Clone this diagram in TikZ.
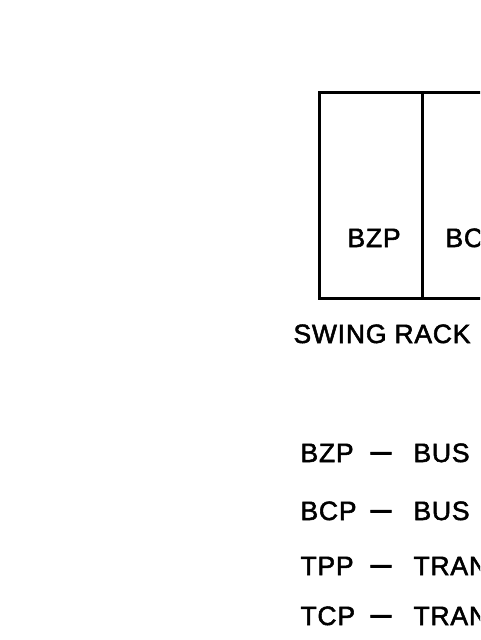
\documentclass[tikz,border=0pt]{standalone}
\usepackage{fontspec}
\setmainfont{Liberation Sans}[FakeBold=2, LetterSpace=3]
\tikzset{
    lbl/.style={font=\fontsize{26.5}{30}\selectfont, anchor=base west, inner sep=0pt},
    dashlbl/.style={font=\fontsize{26.5}{30}\selectfont, anchor=base, inner sep=0pt}
}
\begin{document}
\begin{tikzpicture}[x=1pt, y=-1pt, line width=3pt]
            \useasboundingbox (0, 0) rectangle (480, 640);
            \clip (0, 0) rectangle (480, 640);
            % rack outline
            \draw (319.5, 92.5) rectangle (560, 298.5);
            \draw (422.5, 92.5) -- (422.5, 298.5);
            \node[lbl] (bzpcell) at (346, 247) {BZP};
            \node[lbl] (bcpcell) at (444, 247) {BC};
            \node[lbl] (title) at (292, 343) {SWING\hspace{8pt}RACK};
            % legend
            \node[lbl] (bzpkey) at (299, 462) {BZP};
            \node[dashlbl] (bzpdash) at (381, 462) {\scalebox{1.4}[1.3]{--}};
            \node[lbl] (bzpdesc) at (412, 462) {BUS};
            \node[lbl] (bcpkey) at (299, 520) {BCP};
            \node[dashlbl] (bcpdash) at (381, 520) {\scalebox{1.4}[1.3]{--}};
            \node[lbl] (bcpdesc) at (412, 520) {BUS};
            \node[lbl] (tppkey) at (299, 575) {TPP};
            \node[dashlbl] (tppdash) at (381, 575) {\scalebox{1.4}[1.3]{--}};
            \node[lbl] (tppdesc) at (412, 575) {TRAN};
            \node[lbl] (tcpkey) at (299, 625) {TCP};
            \node[dashlbl] (tcpdash) at (381, 625) {\scalebox{1.4}[1.3]{--}};
            \node[lbl] (tcpdesc) at (412, 625) {TRAN};
\end{tikzpicture}
\end{document}
